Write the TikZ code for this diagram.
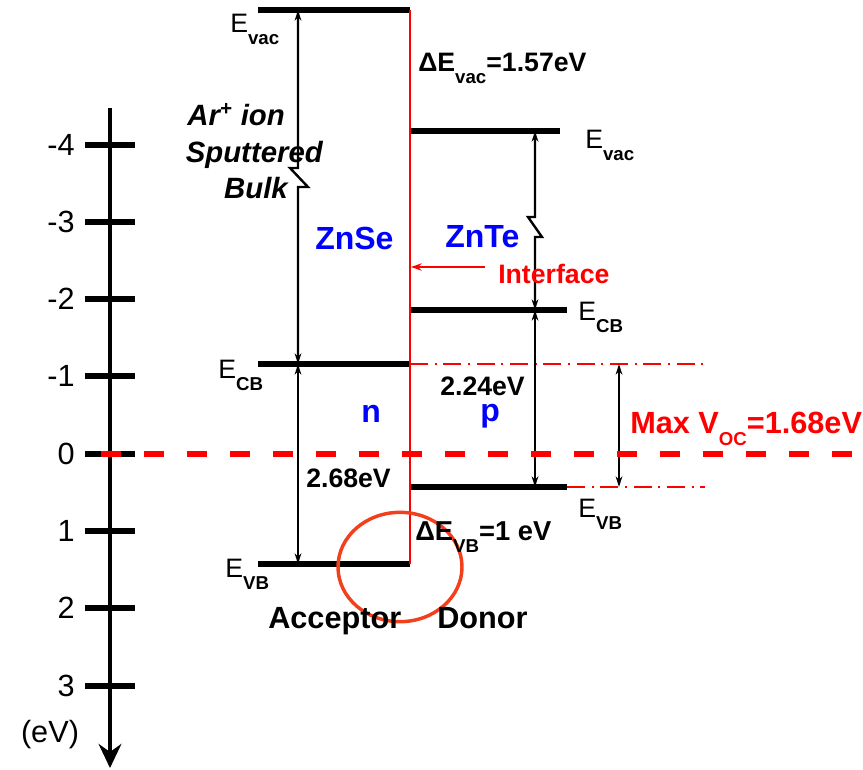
\documentclass[tikz,border=0pt]{standalone}
\usepackage{fontspec}
\setmainfont{Liberation Sans}
\usetikzlibrary{arrows.meta}
\definecolor{rouge}{HTML}{FF0000}
\definecolor{bleu}{HTML}{0000FF}
\definecolor{cercle}{HTML}{F2401C}
\newcommand{\indice}[1]{\raisebox{-9pt}{\fontsize{14}{14}\selectfont\bfseries #1}}

\begin{document}
\begin{tikzpicture}[x=0.75pt, y=-0.75pt,
  niveau/.style={line width=3.8pt},
  graduation/.style={line width=3.8pt},
  axe/.style={line width=3.6pt, -{Stealth[length=18pt, width=17pt, inset=6pt]}},
  fl/.style={line width=1.8pt, {Stealth[length=8pt, width=5pt]}-{Stealth[length=8pt, width=5pt]}},
  flrouge/.style={line width=1.8pt, rouge, -{Stealth[length=8pt, width=5.5pt]}},
  jonction/.style={line width=1.9pt, rouge},
  zero/.style={line width=3.8pt, rouge, dash pattern=on 15pt off 17.25pt},
  tiretpoint/.style={line width=1.5pt, rouge, dash pattern=on 13.5pt off 5pt on 1.5pt off 5pt},
  chiffre/.style={font=\fontsize{23}{23}\selectfont, inner sep=0pt},
  etiq/.style={font=\fontsize{20}{20}\selectfont, inner sep=0pt, anchor=base west},
  mat/.style={font=\fontsize{24}{24}\selectfont\bfseries, text=bleu, inner sep=0pt, anchor=base west},
  val/.style={font=\fontsize{20}{20}\selectfont\bfseries, inner sep=0pt, anchor=base west},
  titre/.style={font=\fontsize{22}{22}\selectfont\bfseries\itshape, inner sep=0pt, anchor=base east},
]
\useasboundingbox (0,0) rectangle (863,770);
% axe des energies
\coordinate (axeHaut) at (110,108);
\coordinate (axeBas) at (110,768);
\draw[axe] (axeHaut) -- (axeBas);
\foreach \v/\y [count=\i] in {-4/145,-3/222,-2/299,-1/376,0/454,1/531,2/608,3/686}{
  \draw[graduation] (85,\y) -- (135,\y);
  \node[chiffre, anchor=east] (grad\i) at (75,\y) {\v};
}
\node[chiffre] (unite) at (50,735) {(eV)};
% niveaux ZnSe
\coordinate (seVacG) at (258,10);  \coordinate (seVacD) at (410,10);
\coordinate (seCBG) at (258,364);  \coordinate (seCBD) at (410,364);
\coordinate (seVBG) at (258,564);  \coordinate (seVBD) at (410,564);
\draw[niveau] (seVacG) -- (seVacD);
\draw[niveau] (seCBG) -- (seCBD);
\draw[niveau] (seVBG) -- (seVBD);
% niveaux ZnTe
\coordinate (teVacG) at (410,131); \coordinate (teVacD) at (560,131);
\coordinate (teCBG) at (410,310);  \coordinate (teCBD) at (567,310);
\coordinate (teVBG) at (410,487);  \coordinate (teVBD) at (567,487);
\draw[niveau] (teVacG) -- (teVacD);
\draw[niveau] (teCBG) -- (teCBD);
\draw[niveau] (teVBG) -- (teVBD);
% interface
\draw[jonction] (seVacD) -- (seVBD);
\coordinate (interfaceDepart) at (485,267);
\coordinate (interfaceCible) at (411,267);
\draw[flrouge] (interfaceDepart) -- (interfaceCible);
% niveaux de Voc
\coordinate (vocHautD) at (705,364);
\coordinate (vocBasD) at (705,487);
\draw[tiretpoint] (seCBD) -- (vocHautD);
\draw[tiretpoint] (teVBD) -- (vocBasD);
% ecarts
\coordinate (seHaut) at (298,10);  \coordinate (seMil) at (298,364); \coordinate (seBas) at (298,564);
\coordinate (teHaut) at (535,131); \coordinate (teMil) at (535,310); \coordinate (teBas) at (535,487);
\coordinate (vocHaut) at (619,364); \coordinate (vocBas) at (619,487);
\draw[fl] (seHaut) -- ++(0,158) -- ++(-8,0) -- ++(18,19) -- ++(-10,0) -- (seMil);
\draw[fl] (seMil) -- (seBas);
\draw[fl] (teHaut) -- ++(0,86) -- ++(-7,0) -- ++(14,20) -- ++(-7,0) -- (teMil);
\draw[fl] (teMil) -- (teBas);
\draw[fl] (vocHaut) -- (vocBas);
% zero
\coordinate (zeroG) at (101,454);
\coordinate (zeroD) at (863,454);
\draw[zero] (zeroG) -- (zeroD);
% cercle
\draw[line width=2.6pt, cercle] (400,567) ellipse [x radius=46.5pt, y radius=41pt];
% etiquettes des niveaux
\node[etiq] (seVacTxt) at (230,33) {E\indice{vac}};
\node[etiq] (seCBTxt) at (218,378) {E\indice{CB}};
\node[etiq] (seVBTxt) at (225,577) {E\indice{VB}};
\node[etiq] (teVacTxt) at (585,149) {E\indice{vac}};
\node[etiq] (teCBTxt) at (578,320) {E\indice{CB}};
\node[etiq] (teVBTxt) at (578,517) {E\indice{VB}};
% textes
\node[titre] (ar) at (285,126) {Ar\textsuperscript{+} ion};
\node[titre] (sput) at (323,162) {Sputtered};
\node[titre] (bulk) at (288,198) {Bulk};
\node[val, font=\fontsize{20}{20}\selectfont\bfseries] (dvac) at (418,72) {ΔE\indice{vac}=1.57eV};
\node[mat] (znse) at (315,249) {ZnSe};
\node[mat] (znte) at (445,247) {ZnTe};
\node[val, text=rouge] (interface) at (498,283) {Interface};
\node[mat] (typen) at (361,422) {n};
\node[mat] (typep) at (480,421) {p};
\node[val] (gapte) at (440,395) {2.24eV};
\node[val] (gapse) at (306,487) {2.68eV};
\node[val, font=\fontsize{23}{23}\selectfont\bfseries, text=rouge] (voc) at (630,433) {Max V\indice{OC}=1.68eV};
\node[val, font=\fontsize{20.5}{20.5}\selectfont\bfseries] (dvb) at (415,540) {ΔE\indice{VB}=1 eV};
\node[val, font=\fontsize{23}{23}\selectfont\bfseries] (accep) at (268,628) {Acceptor};
\node[val, font=\fontsize{23}{23}\selectfont\bfseries] (donor) at (437,628) {Donor};
\end{tikzpicture}
\end{document}
